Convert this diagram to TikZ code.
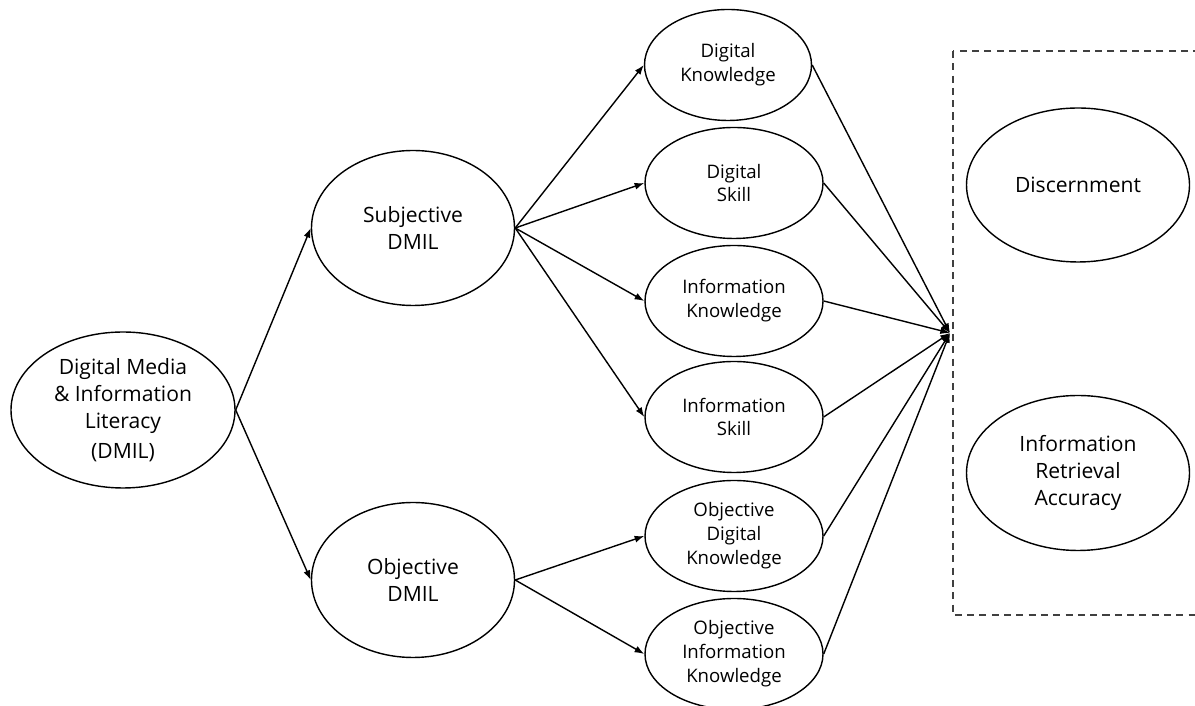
\documentclass[tikz,border=0pt]{standalone}
\usepackage{fontspec}
\setmainfont{Open Sans}
\usetikzlibrary{shapes.geometric,arrows.meta}
\begin{document}
\begin{tikzpicture}[>={Latex[length=5.5pt,width=4pt]},
  oval/.style={ellipse,draw,line width=0.8pt,inner sep=0pt,align=center},
  bigoval/.style={oval,minimum width=4.06cm,minimum height=3.1cm,font=\fontsize{12}{15.3}\selectfont},
  smalloval/.style={oval,minimum width=3.56cm,minimum height=2.22cm,font=\fontsize{10.6}{13.6}\selectfont},
  link/.style={line width=0.8pt,->}]
\useasboundingbox (0,0) rectangle (23.9,14.12);
%\draw[step=1cm,gray,very thin] (0,0) grid (23.9,14.12); %background grid
\draw[line width=1pt,dash pattern=on 4pt off 3pt,black!75] (19.06,13.10) rectangle (24.4,1.82);
\node[bigoval,minimum width=4.48cm,minimum height=3.12cm] (dmil) at (2.46,5.92) {Digital Media\\ \& Information\\ Literacy\\[2pt] (DMIL)};
\node[bigoval] (subj) at (8.26,9.56) {Subjective\\ DMIL};
\node[bigoval] (obj) at (8.26,2.52) {Objective\\ DMIL};
\node[smalloval,minimum width=3.34cm] (dk) at (14.56,12.82) {Digital\\ Knowledge};
\node[smalloval] (ds) at (14.68,10.46) {Digital\\ Skill};
\node[smalloval] (ik) at (14.68,8.10) {Information\\ Knowledge};
\node[smalloval] (is) at (14.68,5.78) {Information\\ Skill};
\node[smalloval] (odk) at (14.68,3.40) {Objective\\ Digital\\ Knowledge};
\node[smalloval] (oik) at (14.68,1.04) {Objective\\ Information\\ Knowledge};
\node[bigoval,minimum width=4.46cm,minimum height=3.08cm] (disc) at (21.56,10.42) {Discernment};
\node[bigoval,minimum width=4.46cm,minimum height=3.1cm] (ira) at (21.56,4.66) {Information\\ Retrieval\\ Accuracy};
\coordinate (conv) at (19.0,7.46);
\draw[link] (dmil.east) -- (subj.west);
\draw[link] (dmil.east) -- (obj.west);
\foreach \n in {dk,ds,ik,is} {\draw[link] (subj.east) -- (\n.west);}
\foreach \n in {odk,oik} {\draw[link] (obj.east) -- (\n.west);}
\foreach \n in {dk,ds,ik,is,odk,oik} {\draw[link] (\n.east) -- (conv);}
\end{tikzpicture}
\end{document}
